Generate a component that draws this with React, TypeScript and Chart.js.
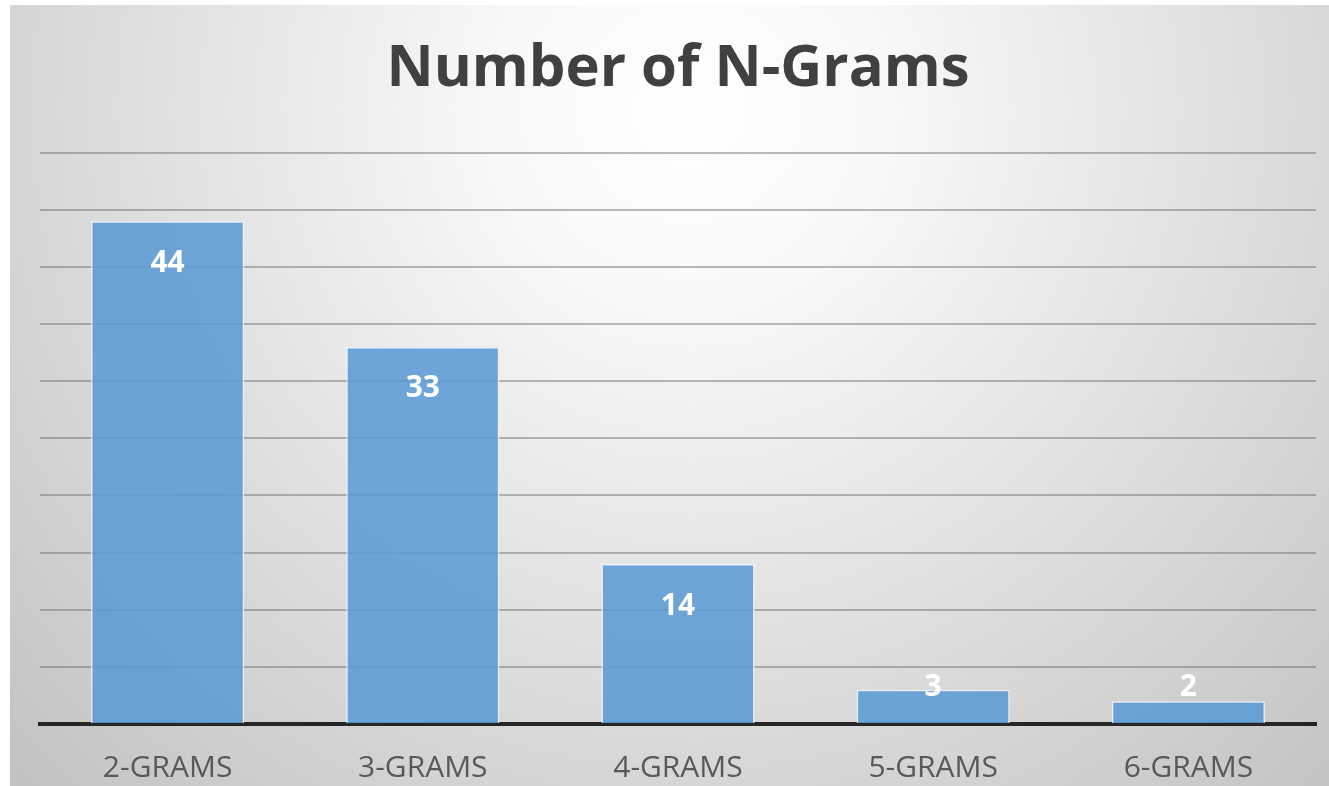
import React, { useEffect, useRef } from "react";
import { Chart, registerables } from "chart.js";

Chart.register(...registerables);

const categories = ["2-GRAMS", "3-GRAMS", "4-GRAMS", "5-GRAMS", "6-GRAMS"];
const counts = [44, 33, 14, 3, 2];
const titleText = "Number of N-Grams";

const backgroundPlugin = {
  id: "bgGradient",
  beforeDraw(chart: any) {
    const { ctx, width, height } = chart;
    ctx.save();
    ctx.fillStyle = "#ffffff";
    ctx.fillRect(0, 0, width, height);
    const g = ctx.createRadialGradient(690, 110, 0, 690, 110, 980);
    g.addColorStop(0, "#ffffff");
    g.addColorStop(0.2, "#f8f8f8");
    g.addColorStop(1, "#c0c0c0");
    ctx.fillStyle = g;
    ctx.fillRect(10, 5, width - 10, height - 5);
    ctx.restore();
  },
};

const labelPlugin = {
  id: "barLabels",
  afterDatasetsDraw(chart: any) {
    const { ctx } = chart;
    const meta = chart.getDatasetMeta(0);
    ctx.save();
    ctx.fillStyle = "#ffffff";
    ctx.font = "bold 30px 'Open Sans'";
    ctx.textAlign = "center";
    ctx.textBaseline = "middle";
    meta.data.forEach((bar: any, i: number) => {
      const y = Math.min(bar.y + 42, bar.base - 36);
      ctx.fillText(String(counts[i]), bar.x, y);
    });
    ctx.restore();
  },
};

export default function App() {
  const ref = useRef<HTMLCanvasElement | null>(null);
  useEffect(() => {
    document.body.style.margin = "0";
    const chart = new Chart(ref.current as HTMLCanvasElement, {
      type: "bar",
      data: {
        labels: categories,
        datasets: [
          {
            data: counts,
            backgroundColor: "rgba(91,155,213,0.88)",
            borderColor: "rgba(235,243,252,0.9)",
            borderWidth: 1.5,
            barPercentage: 0.6,
            categoryPercentage: 1,
          },
        ],
      },
      options: {
        animation: false,
        responsive: false,
        maintainAspectRatio: false,
        layout: { padding: { left: 40, right: 13, top: 35, bottom: 0 } },
        plugins: {
          legend: { display: false },
          tooltip: { enabled: false },
          title: {
            display: true,
            text: titleText,
            color: "#404040",
            font: { family: "'Open Sans'", size: 58, weight: "bold" },
            padding: { top: 0, bottom: 48 },
          },
        },
        scales: {
          x: {
            grid: { display: false },
            border: { display: true, color: "#262626", width: 4 },
            ticks: {
              color: "#595959",
              font: { family: "'Open Sans'", size: 30 },
              padding: 18,
            },
            afterFit: (scale: any) => {
              scale.height = 62;
            },
          },
          y: {
            min: 0,
            max: 50,
            ticks: { display: false, stepSize: 5 },
            border: { display: false },
            grid: {
              drawTicks: false,
              color: "rgba(105,105,105,0.45)",
              lineWidth: 2,
            },
          },
        },
      },
      plugins: [backgroundPlugin, labelPlugin],
    });
    return () => chart.destroy();
  }, []);
  return (
    <div style={{ position: "absolute", left: 0, top: 0, width: 1329, height: 786 }}>
      <canvas ref={ref} width={1329} height={786} style={{ width: 1329, height: 786 }} />
    </div>
  );
}
